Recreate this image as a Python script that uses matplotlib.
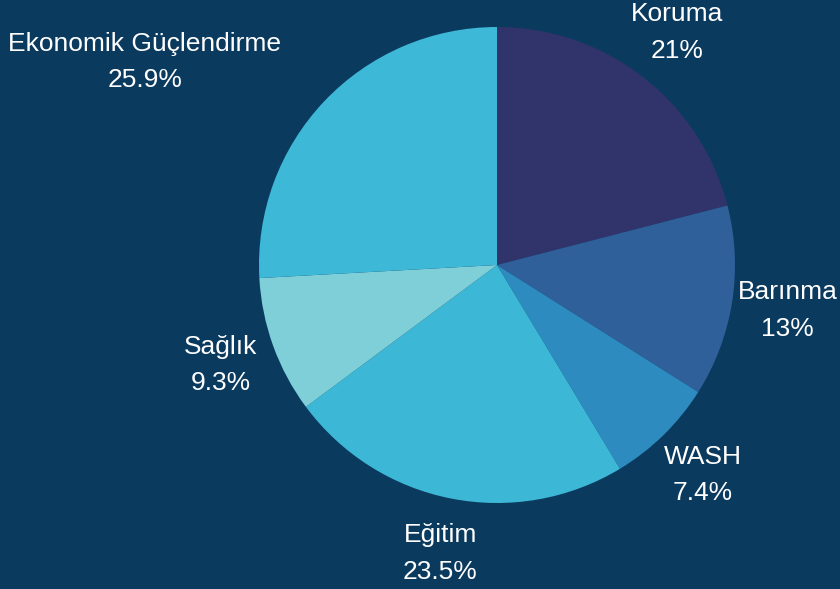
import matplotlib.pyplot as plt

labels = ['Koruma', 'Barınma', 'WASH', 'Eğitim', 'Sağlık', 'Ekonomik Güçlendirme']
values = [21, 13, 7.4, 23.5, 9.3, 25.9]
pct_text = ['21%', '13%', '7.4%', '23.5%', '9.3%', '25.9%']
colors = ['#31336b', '#30609a', '#2e8bbf', '#3cb8d6', '#7fcfd9', '#3db8d6']
bg = '#0b3a5f'

plt.rcParams['font.family'] = ['Liberation Sans', 'DejaVu Sans']

fig = plt.figure(figsize=(8.4, 5.89), dpi=100, facecolor=bg)
ax = fig.add_axes([0, 0, 1, 1])
ax.set_facecolor(bg)

full = [l + '\n' + p for l, p in zip(labels, pct_text)]
wedges, texts = ax.pie(values, labels=full, colors=colors, startangle=90,
                       counterclock=False, center=(497, 324), radius=238,
                       labeldistance=1.235, frame=True,
                       textprops=dict(color='white', fontsize=19, ha='center',
                                      va='center', linespacing=1.65))
ax.set_xlim(0, 840)
ax.set_ylim(0, 589)
ax.set_aspect('equal')
ax.axis('off')
# last label is pushed up-left in the reference
texts[-1].set_position((145, 527))

plt.savefig('out.png', dpi=100, facecolor=bg)
